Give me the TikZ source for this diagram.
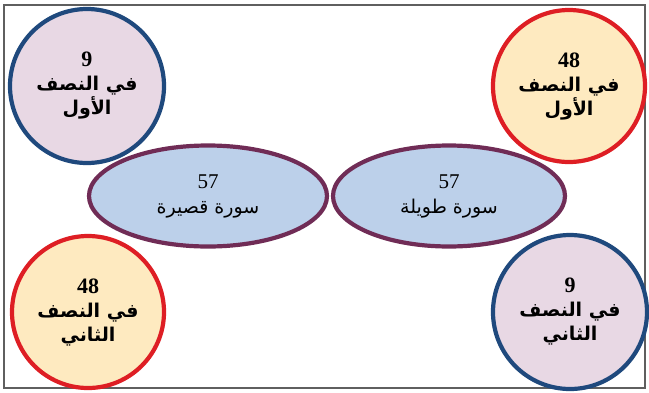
\documentclass[tikz,border=0pt]{standalone}
\usepackage{fontspec}
\usetikzlibrary{shapes.geometric}
\TeXXeTstate=1
\setmainfont{Liberation Serif}
\newfontfamily\arabicfont[Script=Arabic]{DejaVu Sans}
\definecolor{navyline}{RGB}{31,73,125}
\definecolor{pinkfill}{RGB}{232,216,228}
\definecolor{redline}{RGB}{222,30,36}
\definecolor{creamfill}{RGB}{254,234,192}
\definecolor{plumline}{RGB}{112,44,86}
\definecolor{skyfill}{RGB}{188,208,234}
\definecolor{framegray}{RGB}{95,95,95}
\tikzset{
  halfcircle/.style={circle, line width=4.2pt, align=center, inner sep=0pt,
    font=\fontsize{22}{24}\selectfont\bfseries},
  fewbox/.style={halfcircle, draw=navyline, fill=pinkfill, minimum size=154pt},
  manybox/.style={halfcircle, draw=redline, fill=creamfill, minimum size=152pt},
  surabox/.style={ellipse, draw=plumline, fill=skyfill, line width=4.2pt,
    align=center, inner sep=0pt, font=\fontsize{21}{25}\selectfont},
}
\newcommand{\ar}[1]{{\arabicfont\fontsize{19}{24}\selectfont\beginR #1\endR}}
\begin{document}
\begin{tikzpicture}[x=1pt,y=-1pt]
  \useasboundingbox (0,0) rectangle (649,392);
  \draw[framegray, line width=2pt] (4,5) rectangle (645,388);

  \node[surabox, minimum width=238pt, minimum height=101pt] (short) at (208,196)
    {57\\\ar{سورة قصيرة}};
  \node[surabox, minimum width=232pt, minimum height=101pt] (long) at (449,196)
    {57\\\ar{سورة طويلة}};

  \node[fewbox] (shortfirst) at (87,86)
    {9\\\ar{في النصف}\\\ar{الأول}};
  \node[manybox] (longfirst) at (569,86)
    {48\\\ar{في النصف}\\\ar{الأول}};
  \node[manybox] (shortsecond) at (88,312)
    {48\\\ar{في النصف}\\\ar{الثاني}};
  \node[fewbox] (longsecond) at (570,312)
    {9\\\ar{في النصف}\\\ar{الثاني}};
\end{tikzpicture}
\end{document}
